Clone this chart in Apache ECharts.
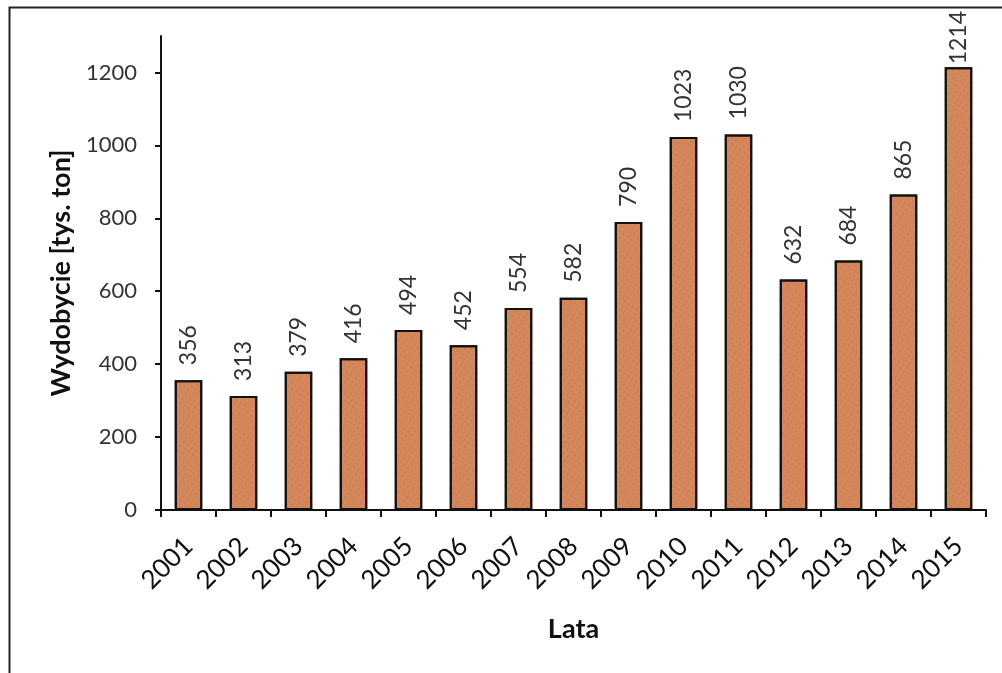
<!DOCTYPE html>
<html><head><meta charset="utf-8">
<script src="https://cdn.jsdelivr.net/npm/echarts@6/dist/echarts.min.js"></script>
<style>html,body{margin:0;padding:0;background:#fff}#c{width:1002px;height:673px}</style>
</head><body><div id="c"></div>
<script>
const years = ['2001','2002','2003','2004','2005','2006','2007','2008','2009','2010','2011','2012','2013','2014','2015'];
const values = [356,313,379,416,494,452,554,582,790,1023,1030,632,684,865,1214];
const yTicks = [0,200,400,600,800,1000,1200];
const yName = 'Wydobycie [tys. ton]';
const xName = 'Lata';

const chart = echarts.init(document.getElementById('c'), null, {renderer:'canvas'});
const FONT = 'Lato, "Open Sans", sans-serif';
const maxVal = Math.max.apply(null, values);
// the tallest bar's label is pushed down to stay inside the plot, as in the original
const barData = values.map(function(v){ return v === maxVal ? {value:v, label:{distance:3}} : v; });
chart.setOption({
  animation:false,
  backgroundColor:'#fff',
  aria:{enabled:false},
  graphic:[
    {type:'polyline', shape:{points:[[9.5,673],[9.5,7.5],[1002,7.5]]}, style:{stroke:'#222', lineWidth:2, fill:null}, z:10}
  ],
  grid:{left:161, right:16, top:36, bottom:163, containLabel:false},
  xAxis:{
    type:'category', data:years,
    axisLine:{lineStyle:{color:'#111', width:2}},
    axisTick:{show:true, alignWithLabel:false, length:7, lineStyle:{color:'#111', width:2}},
    axisLabel:{rotate:45, color:'#111', fontSize:26, fontFamily:FONT, margin:32},
    name:xName, nameLocation:'middle', nameGap:106,
    nameTextStyle:{fontSize:27, fontWeight:'bold', color:'#111', fontFamily:FONT}
  },
  yAxis:{
    type:'value', min:0, max:1300,
    splitLine:{show:false},
    axisLine:{show:true, lineStyle:{color:'#111', width:2}},
    axisTick:{show:true, length:6, lineStyle:{color:'#111', width:2}, customValues:yTicks},
    axisLabel:{color:'#333', fontSize:22, fontFamily:FONT, margin:24, customValues:yTicks,
      formatter:function(v){return String(v);}},
    name:yName, nameLocation:'middle', nameGap:82, nameRotate:90,
    nameTextStyle:{fontSize:27, fontWeight:'bold', color:'#111', fontFamily:FONT}
  },
  series:[{
    type:'bar', data:barData, barWidth:'50%',
    itemStyle:{color:'#d4875a', borderColor:'#111', borderWidth:2,
      decal:{symbol:'circle', symbolSize:0.7, color:'rgba(150,75,35,0.35)', dashArrayX:[[2,3],[3,2]], dashArrayY:[2,3], rotation:0.6}},
    label:{show:true, position:'top', rotate:90, align:'left', verticalAlign:'middle', distance:15,
      color:'#333', fontSize:23, fontFamily:FONT}
  }]
});
</script></body></html>
